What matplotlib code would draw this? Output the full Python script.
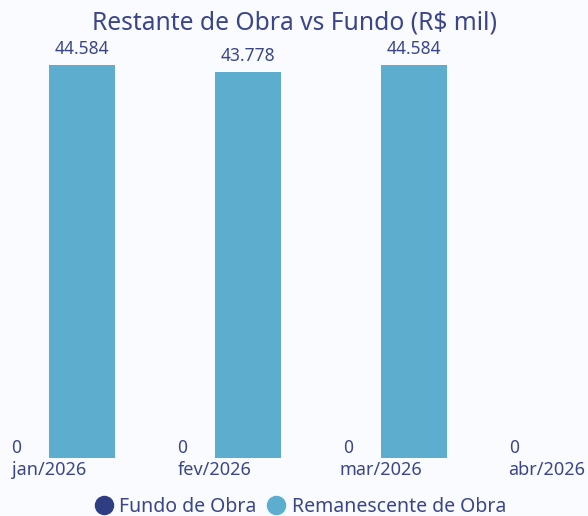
import matplotlib
matplotlib.use("Agg")
import matplotlib.pyplot as plt
from matplotlib.lines import Line2D
import numpy as np

categories = ["jan/2026", "fev/2026", "mar/2026", "abr/2026"]
fundo = [0, 0, 0, 0]
remanescente = [44584, 43778, 44584, None]
series_names = ["Fundo de Obra", "Remanescente de Obra"]

c_fundo = "#2f3d83"
c_rem = "#5dadcf"
txt = "#3b4689"
bg = "#f9fbfe"

plt.rcParams['font.family'] = ['Noto Sans', 'DejaVu Sans']

fig = plt.figure(figsize=(5.88, 5.16), dpi=100)
fig.patch.set_facecolor(bg)
ax = fig.add_axes([0, (516 - 458) / 516, 1, (458 - 40) / 516])
ax.set_facecolor(bg)

x = np.arange(len(categories))
w = 66 / 166

def fmt(v):
    return f"{v:,.0f}".replace(",", ".")

for xi, v in zip(x, fundo):
    if v is None:
        continue
    ax.bar(xi - w / 2, v, w, color=c_fundo)
    ax.annotate(fmt(v), (xi - w / 2, v), xytext=(0, 1), textcoords="offset points",
                ha="center", va="bottom", color=txt, fontsize=12.5, annotation_clip=False)
for xi, v in zip(x, remanescente):
    if v is None:
        continue
    ax.bar(xi + w / 2, v, w, color=c_rem)
    ax.annotate(fmt(v), (xi + w / 2, v), xytext=(0, 5), textcoords="offset points",
                ha="center", va="bottom", color=txt, fontsize=12.5, annotation_clip=False)

ax.set_xlim((0 - 49) / 166, (588 - 49) / 166)
ax.set_ylim(0, 44584 * (458 - 40) / (458 - 65))
ax.set_xticks(x)
ax.set_xticklabels(categories, color=txt, fontsize=13)
ax.tick_params(axis="x", length=0, pad=2.5)
ax.set_yticks([])
for s in ax.spines.values():
    s.set_visible(False)

fig.text(0.5, 1 - 23 / 516, "Restante de Obra vs Fundo (R$ mil)", ha="center", va="center",
         color=txt, fontsize=17.7)

handles = [Line2D([], [], marker="o", linestyle="none", markersize=13, color=c)
           for c in (c_fundo, c_rem)]
fig.legend(handles, series_names, loc="center", bbox_to_anchor=(0.51, 1 - 507 / 516),
           ncol=2, frameon=False, fontsize=14, labelcolor=txt,
           handletextpad=0.3, columnspacing=0.5, handlelength=1.0, borderpad=0)

fig.savefig("out.png", dpi=100, facecolor=bg)
